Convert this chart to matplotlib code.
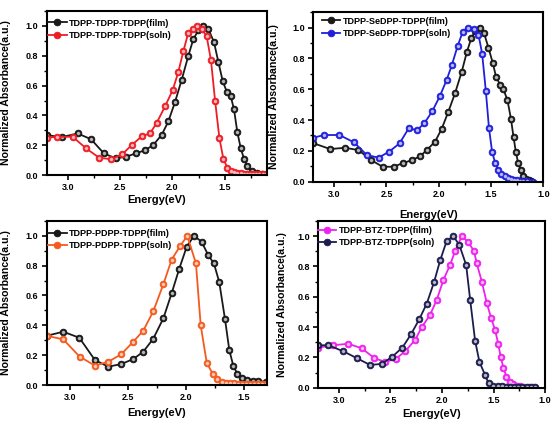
import matplotlib
matplotlib.use("Agg")
import matplotlib.pyplot as plt
from matplotlib.ticker import MultipleLocator, FormatStrFormatter

plt.rcParams['font.family'] = ['Liberation Sans', 'DejaVu Sans']
plt.rcParams['font.weight'] = 'bold'

# ---- panel 1: TDPP-TDPP-TDPP ----
p1_film_E = [3.2, 3.057, 2.904, 2.777, 2.653, 2.541, 2.446, 2.35, 2.262, 2.185, 2.102, 2.039,
             1.975, 1.911, 1.848, 1.801, 1.753, 1.705, 1.657, 1.603, 1.562, 1.52, 1.482, 1.444,
             1.412, 1.381, 1.348, 1.317, 1.285, 1.243, 1.195, 1.148, 1.1]
p1_film_A = [0.268, 0.255, 0.279, 0.241, 0.145, 0.112, 0.123, 0.145, 0.167, 0.2, 0.27, 0.36,
             0.49, 0.64, 0.80, 0.91, 0.97, 1.0, 0.98, 0.89, 0.76, 0.63, 0.56, 0.53,
             0.44, 0.29, 0.18, 0.11, 0.06, 0.03, 0.015, 0.01, 0.008]
p1_soln_E = [3.2, 3.105, 2.952, 2.825, 2.698, 2.586, 2.478, 2.383, 2.287, 2.214, 2.15, 2.071,
             1.997, 1.944, 1.896, 1.85, 1.80, 1.768, 1.72, 1.673, 1.632, 1.593, 1.552, 1.514,
             1.476, 1.44, 1.41, 1.38, 1.35, 1.32, 1.29, 1.26, 1.23, 1.2, 1.17, 1.14, 1.11]
p1_soln_A = [0.25, 0.257, 0.257, 0.18, 0.116, 0.107, 0.14, 0.205, 0.263, 0.279, 0.35, 0.46,
             0.57, 0.69, 0.83, 0.95, 0.98, 1.0, 0.98, 0.93, 0.77, 0.50, 0.25, 0.11,
             0.05, 0.03, 0.02, 0.015, 0.012, 0.01, 0.01, 0.008, 0.008, 0.007, 0.007, 0.006, 0.006]

# ---- panel 2: TDPP-SeDPP-TDPP ----
p2_film_E = [3.2, 3.04, 2.896, 2.768, 2.646, 2.538, 2.432, 2.346, 2.256, 2.179, 2.115, 2.035,
             1.971, 1.908, 1.844, 1.78, 1.732, 1.69, 1.65, 1.61, 1.567, 1.525, 1.483, 1.452,
             1.413, 1.382, 1.343, 1.31, 1.285, 1.262, 1.24, 1.215, 1.19, 1.165, 1.14, 1.115]
p2_film_A = [0.25, 0.212, 0.22, 0.205, 0.14, 0.097, 0.097, 0.12, 0.14, 0.165, 0.205, 0.26,
             0.345, 0.455, 0.575, 0.715, 0.84, 0.93, 0.98, 1.0, 0.965, 0.87, 0.77, 0.68,
             0.63, 0.6, 0.53, 0.41, 0.29, 0.19, 0.12, 0.075, 0.04, 0.02, 0.01, 0.005]
p2_soln_E = [3.2, 3.094, 2.95, 2.81, 2.688, 2.576, 2.474, 2.375, 2.288, 2.208, 2.138, 2.06,
             1.99, 1.925, 1.876, 1.82, 1.77, 1.717, 1.66, 1.62, 1.585, 1.55, 1.52, 1.49,
             1.46, 1.43, 1.40, 1.37, 1.34, 1.31, 1.28, 1.25, 1.22, 1.19, 1.16, 1.13, 1.1]
p2_soln_A = [0.286, 0.303, 0.303, 0.255, 0.173, 0.156, 0.195, 0.249, 0.346, 0.335, 0.379, 0.46,
             0.555, 0.66, 0.755, 0.88, 0.975, 1.0, 0.99, 0.955, 0.83, 0.59, 0.35, 0.195,
             0.12, 0.075, 0.05, 0.035, 0.025, 0.018, 0.012, 0.008, 0.005, 0.003, 0.002, 0.001, 0.0]

# ---- panel 3: TDPP-PDPP-TDPP ----
p3_film_E = [3.2, 3.057, 2.918, 2.783, 2.668, 2.558, 2.452, 2.366, 2.28, 2.193, 2.121, 2.055,
             1.991, 1.928, 1.862, 1.805, 1.756, 1.71, 1.66, 1.623, 1.589, 1.554, 1.516, 1.473,
             1.421, 1.373, 1.31]
p3_film_A = [0.33, 0.357, 0.317, 0.167, 0.123, 0.14, 0.174, 0.223, 0.31, 0.446, 0.614, 0.78,
             0.926, 1.0, 0.96, 0.87, 0.815, 0.69, 0.44, 0.234, 0.13, 0.075, 0.05, 0.035,
             0.03, 0.025, 0.022]
p3_soln_E = [3.2, 3.057, 2.915, 2.783, 2.668, 2.558, 2.457, 2.366, 2.279, 2.193, 2.121, 2.049,
             1.986, 1.911, 1.87, 1.818, 1.767, 1.727, 1.69, 1.655, 1.62, 1.585, 1.55, 1.515,
             1.48, 1.445, 1.41, 1.375, 1.34, 1.305]
p3_soln_A = [0.33, 0.306, 0.19, 0.13, 0.156, 0.205, 0.286, 0.364, 0.495, 0.674, 0.84, 0.93,
             1.0, 0.815, 0.40, 0.15, 0.075, 0.04, 0.022, 0.015, 0.012, 0.011, 0.01, 0.01,
             0.01, 0.01, 0.01, 0.01, 0.01, 0.01]

# ---- panel 4: TDPP-BTZ-TDPP ----
p4_film_E = [3.2, 3.054, 2.909, 2.779, 2.656, 2.552, 2.449, 2.358, 2.261, 2.196, 2.116, 2.051,
             1.987, 1.922, 1.874, 1.808, 1.744, 1.689, 1.663, 1.614, 1.566, 1.524, 1.485, 1.455,
             1.43, 1.404, 1.375, 1.345, 1.31, 1.275, 1.24, 1.2, 1.16, 1.12]
p4_film_A = [0.265, 0.28, 0.29, 0.26, 0.195, 0.17, 0.19, 0.24, 0.315, 0.40, 0.48, 0.58,
             0.71, 0.81, 0.90, 1.0, 0.96, 0.90, 0.82, 0.70, 0.56, 0.46, 0.38, 0.29,
             0.20, 0.13, 0.072, 0.04, 0.022, 0.012, 0.008, 0.006, 0.005, 0.004]
p4_soln_E = [3.2, 3.103, 2.957, 2.827, 2.698, 2.584, 2.482, 2.384, 2.3, 2.222, 2.148, 2.077,
             2.018, 1.954, 1.889, 1.831, 1.766, 1.727, 1.679, 1.637, 1.582, 1.549, 1.501, 1.46,
             1.42, 1.38, 1.34, 1.30, 1.26, 1.22, 1.18, 1.14, 1.1]
p4_soln_A = [0.28, 0.28, 0.24, 0.195, 0.15, 0.157, 0.205, 0.265, 0.353, 0.45, 0.555, 0.697,
             0.84, 0.97, 1.0, 0.94, 0.81, 0.58, 0.31, 0.17, 0.083, 0.03, 0.013, 0.01,
             0.008, 0.007, 0.006, 0.006, 0.005, 0.005, 0.005, 0.005, 0.005]

panels = [
    # rect, xlim, film, soln, labels, colours, legend anchor, label coords
    ([0.0833, 0.586, 0.393, 0.388], (3.2, 1.1),
     (p1_film_E, p1_film_A), (p1_soln_E, p1_soln_A),
     ("TDPP-TDPP-TDPP(film)", "TDPP-TDPP-TDPP(soln)"),
     ("#1a1a1a", "#ee1c24"), (0.0, 0.965), -0.162, -0.12),
    ([0.5595, 0.5705, 0.4107, 0.4005], (3.2, 1.0),
     (p2_film_E, p2_film_A), (p2_soln_E, p2_soln_A),
     ("TDPP-SeDPP-TDPP(film)", "TDPP-SeDPP-TDPP(soln)"),
     ("#1a1a1a", "#1f1fdc"), (0.03, 0.985), -0.149, -0.17),
    ([0.0833, 0.0898, 0.393, 0.388], (3.2, 1.3),
     (p3_film_E, p3_film_A), (p3_soln_E, p3_soln_A),
     ("TDPP-PDPP-TDPP(film)", "TDPP-PDPP-TDPP(soln)"),
     ("#1a1a1a", "#f45a1e"), (0.0, 0.96), -0.162, -0.14),
    ([0.5684, 0.0835, 0.405, 0.394], (3.2, 1.0),
     (p4_film_E, p4_film_A), (p4_soln_E, p4_soln_A),
     ("TDPP-BTZ-TDPP(film)", "TDPP-BTZ-TDPP(soln)"),
     ("#ee22ee", "#1c1c4e"), (-0.008, 0.98), -0.138, -0.13),
]

fig = plt.figure(figsize=(5.6, 4.23), dpi=100)

for rect, xlim, film, soln, labels, colors, anchor, ylab_x, xlab_y in panels:
    ax = fig.add_axes(rect)
    for (E, A), lab, c in zip((film, soln), labels, colors):
        ax.plot(E, A, '-o', color=c, lw=1.3, ms=4.8, mec='#111111' if c == "#1a1a1a" else c,
                mew=0.6, label=lab)
        ax.plot(E, A, 'o', color='white', ms=1.6, alpha=0.55)
    ax.set_xlim(*xlim)
    ax.set_ylim(0, 1.1)
    ax.xaxis.set_major_locator(MultipleLocator(0.5))
    ax.xaxis.set_minor_locator(MultipleLocator(0.25))
    ax.yaxis.set_major_locator(MultipleLocator(0.2))
    ax.yaxis.set_minor_locator(MultipleLocator(0.1))
    ax.xaxis.set_major_formatter(FormatStrFormatter('%.1f'))
    ax.yaxis.set_major_formatter(FormatStrFormatter('%.1f'))
    ax.tick_params(which='major', direction='out', length=3.5, width=1.2, labelsize=6.5, pad=2.5)
    ax.tick_params(which='minor', direction='out', length=2, width=1.0)
    ax.tick_params(top=False, right=False)
    for s in ax.spines.values():
        s.set_linewidth(1.5)
    for t in ax.get_xticklabels() + ax.get_yticklabels():
        t.set_fontweight('bold')
    ax.set_xlabel("Energy(eV)", fontsize=8, fontweight='bold')
    ax.set_ylabel("Normalized Absorbance(a.u.)", fontsize=7.6, fontweight='bold')
    ax.yaxis.set_label_coords(ylab_x, 0.5)
    ax.xaxis.set_label_coords(0.5, xlab_y)
    ax.legend(loc='upper left', bbox_to_anchor=anchor, frameon=False,
              handlelength=2.0, handletextpad=0.3, labelspacing=0.35, borderpad=0.2,
              borderaxespad=0, prop={'weight': 'bold', 'size': 6.5})

fig.savefig("out.png", dpi=100)
